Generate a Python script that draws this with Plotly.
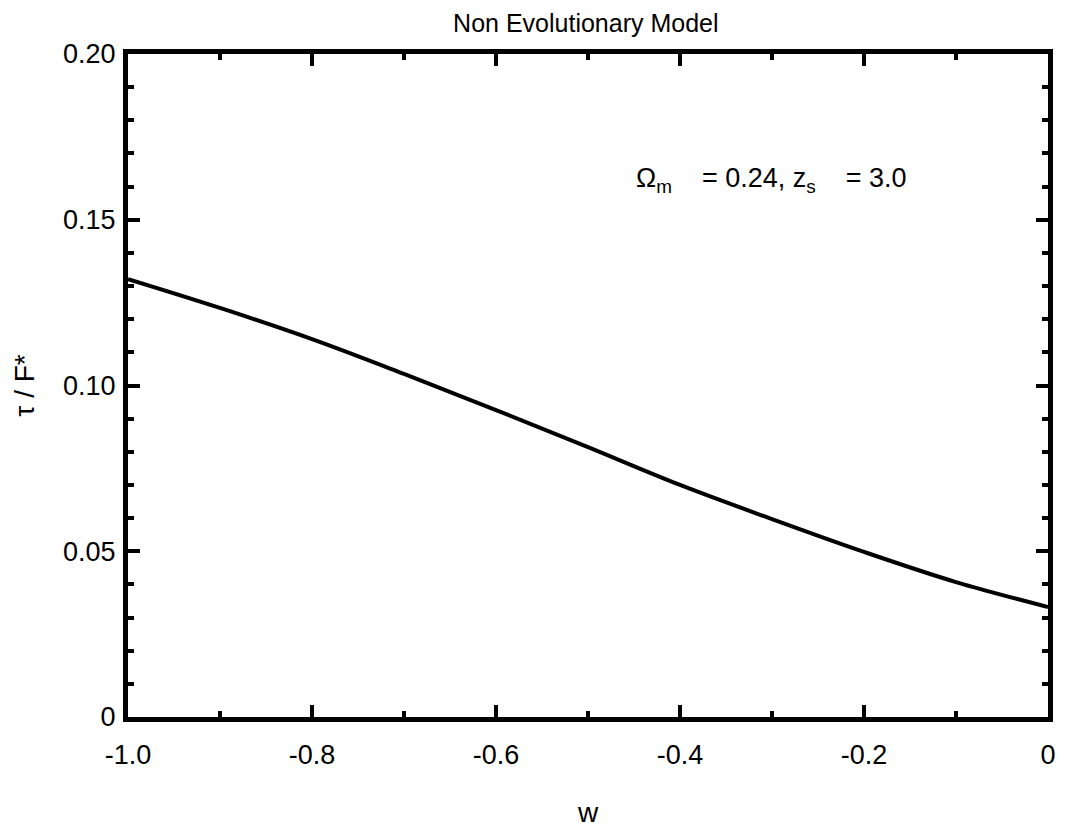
import plotly.graph_objects as go

w = [-1.0, -0.9, -0.8, -0.7, -0.6, -0.5, -0.4, -0.3, -0.2, -0.1, 0.0]
tau_over_F = [0.1321, 0.1234, 0.1140, 0.1035, 0.0926, 0.0814, 0.0700, 0.0597, 0.0498, 0.0407, 0.0332]

x_tickvals = [-1.0, -0.8, -0.6, -0.4, -0.2, 0.0]
x_ticktext = ["-1.0", "-0.8", "-0.6", "-0.4", "-0.2", "0"]
y_tickvals = [0, 0.05, 0.10, 0.15, 0.20]
y_ticktext = ["0", "0.05", "0.10", "0.15", "0.20"]

FONT = "Liberation Sans, Arial, sans-serif"

fig = go.Figure()
fig.add_trace(go.Scatter(x=w, y=tau_over_F, mode="lines",
                         line=dict(color="black", width=4, shape="spline"),
                         showlegend=False))

axis_common = dict(
    showgrid=False, zeroline=False,
    showline=True, linecolor="black", linewidth=5, mirror="allticks",
    ticks="inside", ticklen=12, tickwidth=3.5, tickcolor="black",
    tickfont=dict(family=FONT, size=27, color="black"),
)

fig.update_layout(
    width=1072, height=829,
    margin=dict(l=120, r=32, t=46, b=120),
    paper_bgcolor="white", plot_bgcolor="white",
    title=dict(text="Non Evolutionary Model", x=0.539, xanchor="center", y=0.982, yanchor="middle",
               font=dict(family=FONT, size=25, color="black")),
    xaxis=dict(range=[-1.0, 0.0], tickvals=x_tickvals, ticktext=x_ticktext, ticklabelstandoff=10,
               minor=dict(dtick=0.1, tick0=0, ticks="inside", ticklen=6, tickwidth=3.5, tickcolor="black"),
               title=dict(text="w", font=dict(family=FONT, size=28, color="black"), standoff=34),
               **axis_common),
    yaxis=dict(range=[0, 0.20], tickvals=y_tickvals, ticktext=y_ticktext, ticklabelstandoff=2,
               minor=dict(dtick=0.01, tick0=0, ticks="inside", ticklen=6, tickwidth=3.5, tickcolor="black"),
               title=dict(text="τ / F*", font=dict(family=FONT, size=28, color="black"), standoff=22),
               **axis_common),
)

fig.add_annotation(x=-0.45, y=0.162, xref="x", yref="y", xanchor="left", yanchor="middle",
                   text="Ω<sub>m</sub>    = 0.24, z<sub>s</sub>    = 3.0", showarrow=False,
                   font=dict(family=FONT, size=27, color="black"))

fig.write_html("out.html")
